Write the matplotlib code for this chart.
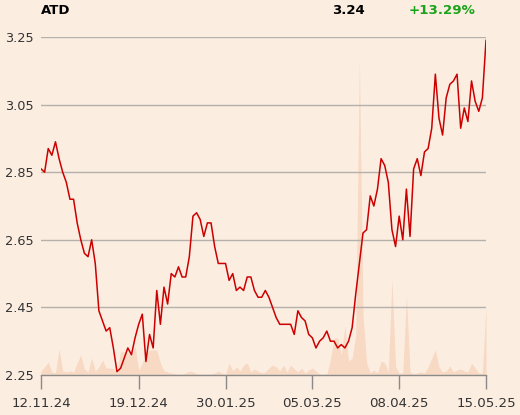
"""
ATD price chart with volume shading - FT style
"""
import matplotlib
matplotlib.use('Agg')
import matplotlib.pyplot as plt

# daily closing prices
prices = [
    2.86, 2.85, 2.92, 2.90, 2.94, 2.89, 2.85, 2.82, 2.77, 2.77,
    2.70, 2.65, 2.61, 2.60, 2.65, 2.58, 2.44, 2.41, 2.38, 2.39,
    2.33, 2.26, 2.27, 2.30, 2.33, 2.31, 2.36, 2.40, 2.43, 2.29,
    2.37, 2.33, 2.50, 2.40, 2.51, 2.46, 2.55, 2.54, 2.57, 2.54,
    2.54, 2.60, 2.72, 2.73, 2.71, 2.66, 2.70, 2.70, 2.63, 2.58,
    2.58, 2.58, 2.53, 2.55, 2.50, 2.51, 2.50, 2.54, 2.54, 2.50,
    2.48, 2.48, 2.50, 2.48, 2.45, 2.42, 2.40, 2.40, 2.40, 2.40,
    2.37, 2.44, 2.42, 2.41, 2.37, 2.36, 2.33, 2.35, 2.36, 2.38,
    2.35, 2.35, 2.33, 2.34, 2.33, 2.35, 2.39, 2.49, 2.58, 2.67,
    2.68, 2.78, 2.75, 2.80, 2.89, 2.87, 2.82, 2.68, 2.63, 2.72,
    2.65, 2.80, 2.66, 2.86, 2.89, 2.84, 2.91, 2.92, 2.98, 3.14,
    3.01, 2.96, 3.07, 3.11, 3.12, 3.14, 2.98, 3.04, 3.00, 3.12,
    3.06, 3.03, 3.07, 3.24,
]

# daily volume (relative units)
volume = [
    4, 8, 13, 3, 2, 26, 4, 3, 4, 3,
    12, 20, 6, 3, 17, 4, 8, 15, 7, 7,
    6, 3, 24, 23, 22, 20, 29, 5, 12, 22,
    25, 25, 25, 12, 4, 3, 2, 1.5, 1, 1,
    2, 4, 3, 1.5, 1, 1, 1, 1, 2, 4,
    2, 0.5, 12, 4, 8, 4, 10, 12, 3, 6,
    4, 2, 3, 7, 10, 8, 4, 10, 3, 10,
    6, 3, 7, 2, 5, 7, 4, 1, 1, 1,
    15, 37, 37, 20, 49, 14, 17, 40, 316, 60,
    12, 2, 5, 2, 14, 12, 3, 96, 8, 2,
    2, 79, 3, 1, 2, 3, 2, 8, 17, 25,
    8, 3, 4, 9, 3, 5, 6, 4, 3, 12,
    7, 2, 2, 69,
]

tick_idx = [0, 27, 51, 75, 99, 123]
tick_labels = ['12.11.24', '19.12.24', '30.01.25', '05.03.25', '08.04.25', '15.05.25']
y_ticks = [2.25, 2.45, 2.65, 2.85, 3.05, 3.25]

ticker = 'ATD'
last_price = '3.24'
change = '+13.29%'

BG = '#fcede1'
LINE = '#cc0000'
VOL = '#f7d9c4'
GRID = '#b4b0ac'
TXT = '#333333'

fig = plt.figure(figsize=(5.2, 4.15), dpi=100, facecolor=BG)
ax = fig.add_axes([41 / 520, 40 / 415, 445 / 520, 338 / 415])
ax.set_facecolor(BG)

x = list(range(len(prices)))

# volume on its own scale behind the price line
vax = ax.twinx()
vax.fill_between(x, 0, volume, color=VOL, linewidth=0)
vax.set_ylim(0, 338)
vax.set_yticks([])
for s in vax.spines.values():
    s.set_visible(False)
ax.set_zorder(vax.get_zorder() + 1)
ax.patch.set_visible(False)
vax.patch.set_facecolor(BG)

# grid lines
for yv in y_ticks[1:]:
    ax.axhline(yv, color=GRID, linewidth=1.0, zorder=1)

ax.plot(x, prices, color=LINE, linewidth=1.1, zorder=3)

ax.set_xlim(0, len(prices) - 1)
ax.set_ylim(2.25, 3.25)
ax.set_yticks(y_ticks)
ax.set_yticklabels([f'{v:.2f}' for v in y_ticks])
ax.set_xticks(tick_idx)
ax.set_xticklabels(tick_labels)

for name in ['top', 'right', 'left']:
    ax.spines[name].set_visible(False)
ax.spines['bottom'].set_color('#8a8a8a')
ax.spines['bottom'].set_linewidth(1.0)

ax.tick_params(axis='y', length=0, pad=5.5, labelsize=9.3, labelcolor=TXT)
ax.tick_params(axis='x', length=10, width=1.0, color='#8a8a8a', direction='out',
               pad=6, labelsize=9.6, labelcolor=TXT)

# header
fig.text(41 / 520, 1 - 10 / 415, ticker, fontsize=9.5, fontweight='bold',
         ha='left', va='center', color='black')
fig.text(365 / 520, 1 - 10 / 415, last_price, fontsize=9.5, fontweight='bold',
         ha='right', va='center', color='black')
fig.text(475 / 520, 1 - 10 / 415, change, fontsize=9.6, fontweight='bold',
         ha='right', va='center', color='#1aa31a')

fig.savefig('out.png', dpi=100, facecolor=BG)
plt.close(fig)
